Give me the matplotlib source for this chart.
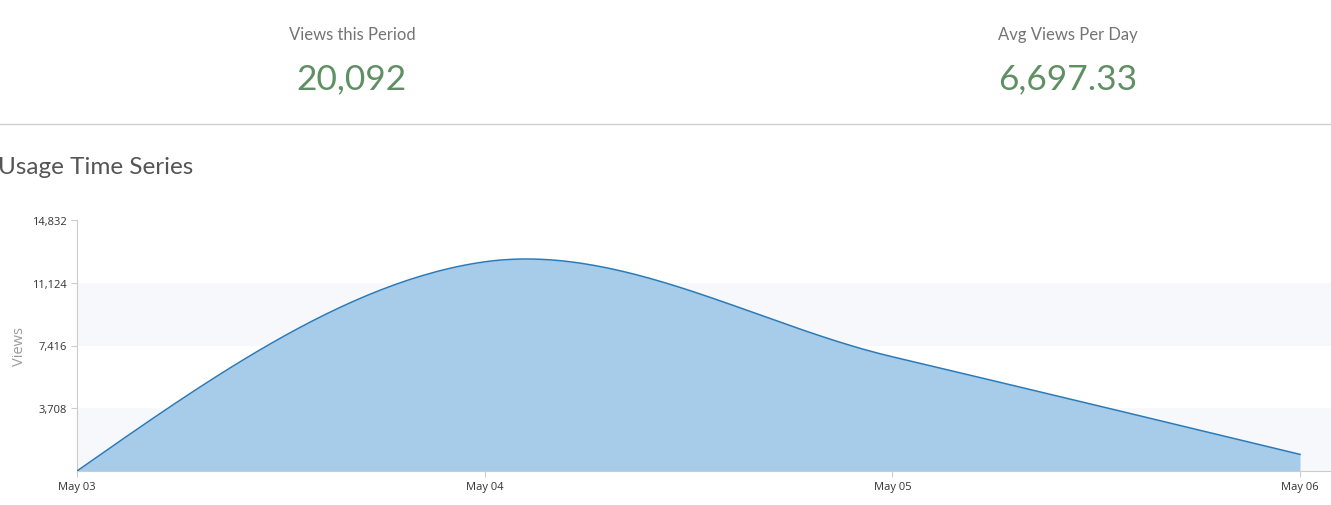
import matplotlib
matplotlib.use("Agg")
import matplotlib.pyplot as plt
import numpy as np

# data
days = ["May 03", "May 04", "May 05", "May 06"]
views = [0, 12360, 6750, 982]
y_ticks = [3708, 7416, 11124, 14832]
y_tick_labels = ["3,708", "7,416", "11,124", "14,832"]
kpi_titles = ["Views this Period", "Avg Views Per Day"]
kpi_values = ["20,092", "6,697.33"]

W, H = 1331, 506


def smooth_curve(xs, ys, n=60):
    # cubic Hermite, central tangents inside, natural-style ends
    xs = np.asarray(xs, float)
    ys = np.asarray(ys, float)
    m = np.zeros_like(ys)
    m[1:-1] = (ys[2:] - ys[:-2]) / (xs[2:] - xs[:-2])
    d0 = (ys[1] - ys[0]) / (xs[1] - xs[0])
    dn = (ys[-1] - ys[-2]) / (xs[-1] - xs[-2])
    m[0] = (3 * d0 - m[1]) / 2
    m[-1] = (3 * dn - m[-2]) / 2
    out_x, out_y = [], []
    for i in range(len(xs) - 1):
        h = xs[i + 1] - xs[i]
        t = np.linspace(0, 1, n)
        h00 = 2 * t**3 - 3 * t**2 + 1
        h10 = t**3 - 2 * t**2 + t
        h01 = -2 * t**3 + 3 * t**2
        h11 = t**3 - t**2
        out_x.append(xs[i] + t * h)
        out_y.append(h00 * ys[i] + h10 * h * m[i] + h01 * ys[i + 1] + h11 * h * m[i + 1])
    return np.concatenate(out_x), np.concatenate(out_y)


fig = plt.figure(figsize=(W / 100, H / 100), dpi=100)
fig.patch.set_facecolor("white")

# KPI header
for cx, title, val in zip([352, 1068], kpi_titles, kpi_values):
    fig.text(cx / W, 1 - 35 / H, title, ha="center", va="center",
             fontsize=12, color="#747474", family="Lato")
    fig.text(cx / W, 1 - 79 / H, val, ha="center", va="center",
             fontsize=25.5, color="#5f9063", family="Lato")

# separator line
fig.add_artist(plt.Line2D([0, 1], [1 - 125 / H, 1 - 125 / H], transform=fig.transFigure,
                          color="#cfcfcf", linewidth=1))

fig.text(-2 / W, 1 - 167 / H, "Usage Time Series", ha="left", va="center",
         fontsize=17.5, color="#555555", family="Lato")

# chart area
ax = fig.add_axes([77 / W, (H - 472) / H, (W - 77) / W, 251 / H])
x = np.arange(len(days))
sx, sy = smooth_curve(x, views)

# alternating bands
ax.axhspan(0, y_ticks[0], color="#f7f8fc", zorder=0, lw=0)
ax.axhspan(y_ticks[1], y_ticks[2], color="#f7f8fc", zorder=0, lw=0)

ax.fill_between(sx, 0, sy, color="#a6cce9", zorder=2, lw=0)
ax.plot(sx, sy, color="#2a7ab8", linewidth=1.1, zorder=3)

ax.set_xlim(0, 3 + 31 / 407.67)
ax.set_ylim(0, y_ticks[-1])
ax.set_xticks(x)
ax.set_xticklabels(days)
ax.set_yticks(y_ticks)
ax.set_yticklabels(y_tick_labels)
ax.tick_params(axis="both", labelsize=8, colors="#cccccc", labelcolor="#333333",
               length=4, width=0.8)
for lbl in ax.get_xticklabels() + ax.get_yticklabels():
    lbl.set_family("Open Sans")
ax.set_ylabel("Views", fontsize=10.5, color="#9a9a9a", family="Open Sans")
ax.yaxis.set_label_coords(-50 / (W - 77), 0.5)

for s in ["top", "right"]:
    ax.spines[s].set_visible(False)
for s in ["left", "bottom"]:
    ax.spines[s].set_color("#cccccc")
    ax.spines[s].set_linewidth(0.8)
ax.set_facecolor("white")

fig.savefig("out.png", dpi=100, facecolor="white")
